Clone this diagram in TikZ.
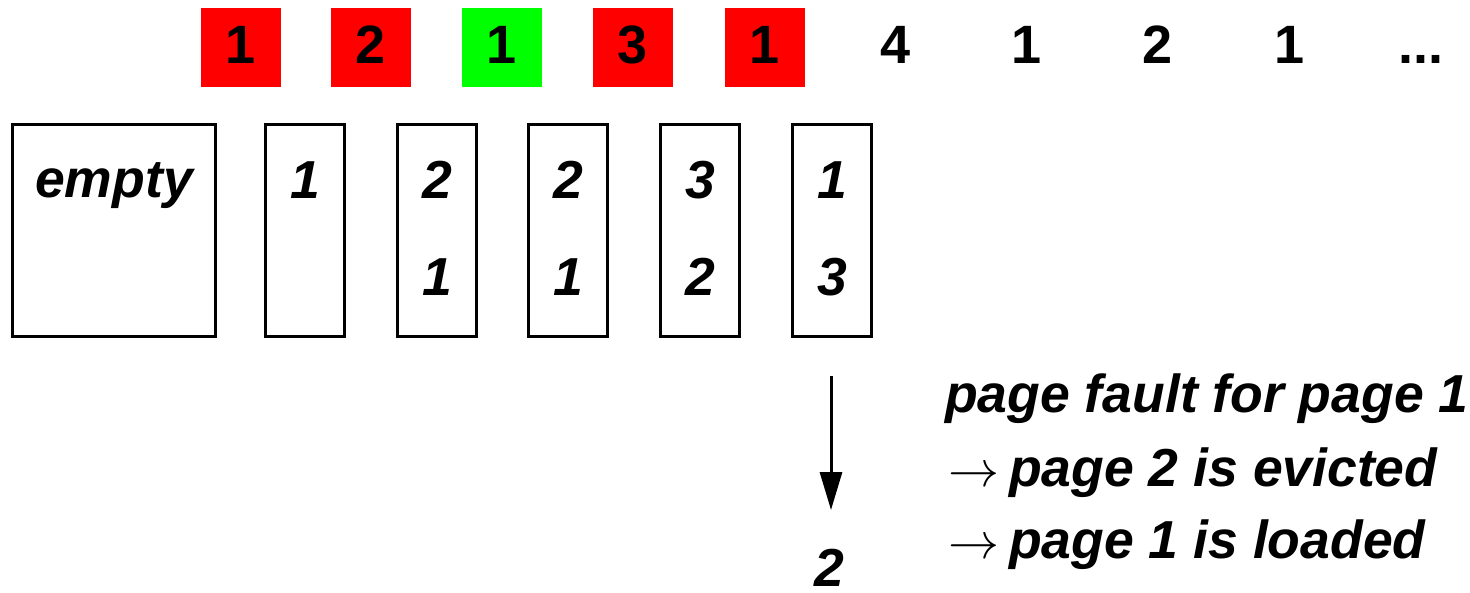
\documentclass[tikz,border=0pt]{standalone}
\usepackage{fontspec}
\setmainfont{Liberation Sans}
\usetikzlibrary{arrows.meta}
\newcommand{\bigto}{\scalebox{2.05}{$\rightarrow$}}
\begin{document}
\begin{tikzpicture}[x=1pt,y=-1pt,
  big/.style={font=\fontsize{54}{60}\selectfont\bfseries, inner sep=0pt},
  itl/.style={font=\fontsize{53.5}{60}\selectfont\bfseries\itshape, inner sep=0pt},
  refbox/.style={minimum width=80pt, minimum height=79pt, inner sep=0pt},
  frame/.style={draw=black, line width=3pt, minimum height=212pt, inner sep=0pt},
  arr/.style={line width=3pt, -{Triangle[length=38pt,width=22pt]}}]
\useasboundingbox (0,0) rectangle (1470,592);
% reference string boxes
\node[refbox, fill=red]         (b1) at (240.5,47.5) {};
\node[refbox, fill=red]         (b2) at (371,47.5) {};
\node[refbox, fill=green]       (b3) at (502,47.5) {};
\node[refbox, fill=red]         (b4) at (633,47.5) {};
\node[refbox, fill=red]         (b5) at (765,47.5) {};
\node[big, anchor=base] (r1) at (240.5,63) {1};
\node[big, anchor=base] (r2) at (371,63) {2};
\node[big, anchor=base] (r3) at (502,63) {1};
\node[big, anchor=base] (r4) at (633,63) {3};
\node[big, anchor=base] (r5) at (765,63) {1};
\node[big, anchor=base] (r6) at (896,63) {4};
\node[big, anchor=base] (r7) at (1027,63) {1};
\node[big, anchor=base] (r8) at (1158,63) {2};
\node[big, anchor=base] (r9) at (1290,63) {1};
\node[big, anchor=base] (r10) at (1421,63) {...};
% frames
\node[frame, minimum width=203pt] (f1) at (114,230.5) {};
\node[frame, minimum width=79pt] (f2) at (305,230.5) {};
\node[frame, minimum width=79pt] (f3) at (437,230.5) {};
\node[frame, minimum width=79pt] (f4) at (568,230.5) {};
\node[frame, minimum width=79pt] (f5) at (700,230.5) {};
\node[frame, minimum width=79pt] (f6) at (832,230.5) {};
\node[itl, anchor=base] (e1) at (114,197) {empty};
\node[itl, anchor=base] (t2a) at (305,198) {1};
\node[itl, anchor=base] (t3a) at (437,198) {2};
\node[itl, anchor=base] (t3b) at (437,295) {1};
\node[itl, anchor=base] (t4a) at (568,198) {2};
\node[itl, anchor=base] (t4b) at (568,295) {1};
\node[itl, anchor=base] (t5a) at (700,198) {3};
\node[itl, anchor=base] (t5b) at (700,295) {2};
\node[itl, anchor=base] (t6a) at (832,198) {1};
\node[itl, anchor=base] (t6b) at (832,295) {3};
% evicted page
\node[itl, anchor=base] (n2) at (829,586) {2};
\coordinate (astart) at (831,376);
\coordinate (aend) at (831,510);
\draw[arr] (astart) -- (aend);
% explanation
\node[itl, anchor=base west] (l1) at (945,412) {page fault for page 1};
\node[itl, anchor=base west] (l2) at (948,486) {\bigto\hspace{10pt}page 2 is evicted};
\node[itl, anchor=base west] (l3) at (948,558) {\bigto\hspace{10pt}page 1 is loaded};
\end{tikzpicture}
\end{document}
